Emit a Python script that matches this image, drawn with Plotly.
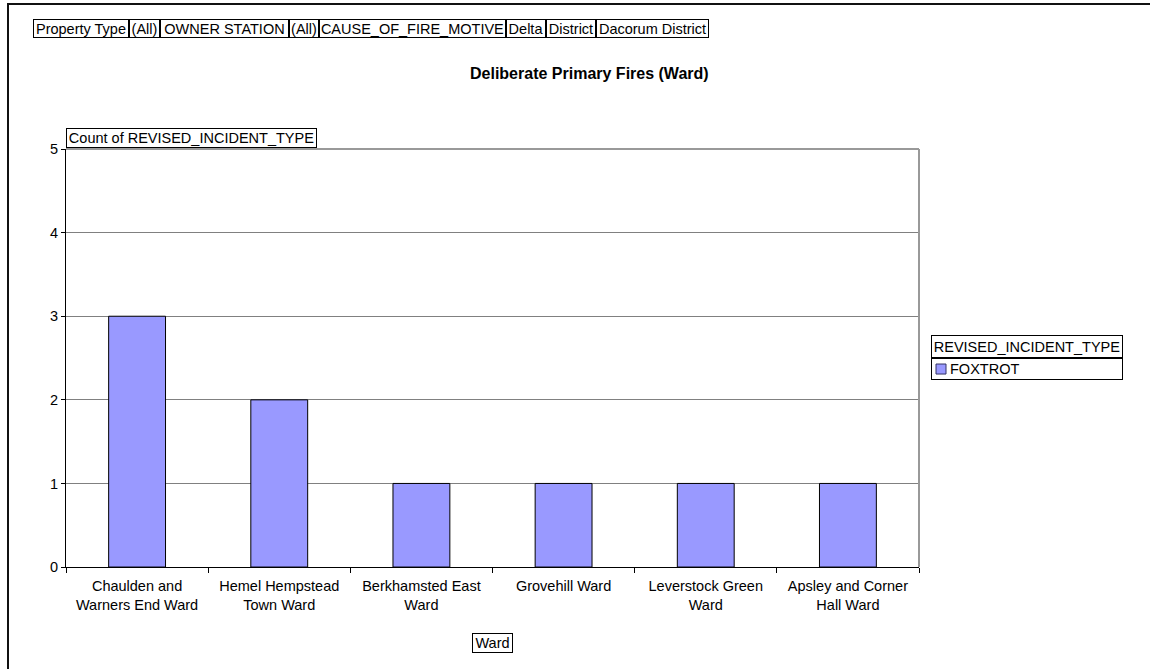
import plotly.graph_objects as go

# ---- data ----
wards = [
    "Chaulden and<br>Warners End Ward",
    "Hemel Hempstead<br>Town Ward",
    "Berkhamsted East<br>Ward",
    "Grovehill Ward",
    "Leverstock Green<br>Ward",
    "Apsley and Corner<br>Hall Ward",
]
counts = [3, 2, 1, 1, 1, 1]
series_name = "FOXTROT"
y_ticks = [0, 1, 2, 3, 4, 5]
filter_labels = ["Property Type", "(All)", "OWNER STATION", "(All)",
                 "CAUSE_OF_FIRE_MOTIVE", "Delta", "District", "Dacorum District"]
title_text = "Deliberate Primary Fires (Ward)"
y_title = "Count of REVISED_INCIDENT_TYPE"
x_title = "Ward"
legend_title = "REVISED_INCIDENT_TYPE"

W, H = 1150, 669
FONT = "Liberation Sans, Arial, sans-serif"
FS = 14.5
BAR = "#9999FF"

# vertical calibration of the rendered page (measured)
VS, VO = 0.976, 8.0


def px(x):
    return x / W


def ypx(y):
    return (y - VO) / VS


def py(y):
    return 1 - ypx(y) / H


fig = go.Figure()
fig.add_trace(go.Bar(x=wards, y=counts, name=series_name,
                     marker=dict(color=BAR, line=dict(color="black", width=1)),
                     showlegend=False))

L, R, T, B = 66, 919, 149, 567
fig.update_layout(
    width=W, height=H,
    margin=dict(l=0, r=0, t=0, b=0),
    paper_bgcolor="white", plot_bgcolor="white",
    font=dict(family=FONT, size=FS, color="black"),
    bargap=0.6,
    xaxis=dict(domain=[px(L), px(R)], showgrid=False, showline=True,
               linecolor="black", linewidth=1, ticks="outside",
               tickson="boundaries", ticklen=5, tickcolor="black",
               ticklabelstandoff=6,
               tickfont=dict(size=FS), zeroline=False),
    yaxis=dict(domain=[py(B), py(T)], range=[0, 5], tickvals=y_ticks,
               showgrid=True, gridcolor="#808080", gridwidth=1,
               showline=True, linecolor="black", linewidth=1,
               ticks="outside", ticklen=4, tickcolor="black",
               tickfont=dict(size=FS), zeroline=False),
)

shapes = []
# plot area top/right border (gray)
shapes.append(dict(type="line", xref="paper", yref="paper", x0=px(L), x1=px(R),
                   y0=py(T), y1=py(T), line=dict(color="#999999", width=2)))
shapes.append(dict(type="line", xref="paper", yref="paper", x0=px(R), x1=px(R),
                   y0=py(T), y1=py(B), line=dict(color="#999999", width=2)))
# outer chart border
shapes.append(dict(type="rect", xref="paper", yref="paper", x0=px(8), x1=px(1170),
                   y0=py(700), y1=py(4), line=dict(color="#111111", width=2)))

annotations = []


def box(text, x0, x1, y0, y1):
    annotations.append(dict(
        text=text,
        xref="paper", yref="paper", x=px(x0), y=py(y0),
        xanchor="left", yanchor="top", showarrow=False,
        width=x1 - x0 - 2, height=ypx(y1) - ypx(y0) - 2, align="center", valign="middle",
        bordercolor="black", borderwidth=1, borderpad=0,
        font=dict(family=FONT, size=FS, color="black")))


# filter row
edges = [33, 129, 160, 289, 319, 506, 546, 596, 709]
for i, lab in enumerate(filter_labels):
    box(lab, edges[i], edges[i + 1], 18.5, 37.5)

# title
annotations.append(dict(text=f"<b>{title_text}</b>", xref="paper", yref="paper",
                        x=px(589), y=py(73), xanchor="center", yanchor="middle",
                        showarrow=False, font=dict(family=FONT, size=16, color="black")))

# y title box
box(y_title, 66, 317, 128, 148)
# x title box
box(x_title, 472, 513, 633, 653)

# legend
box(legend_title, 931, 1123, 335, 358)
box("", 931, 1123, 357, 379)
shapes.append(dict(type="rect", xref="paper", yref="paper", x0=px(936), x1=px(946),
                   y0=py(374), y1=py(364), fillcolor=BAR,
                   line=dict(color="#333366", width=1)))
annotations.append(dict(text=series_name, xref="paper", yref="paper",
                        x=px(948), y=py(369), xanchor="left", yanchor="middle",
                        showarrow=False, font=dict(family=FONT, size=FS, color="black")))

fig.update_layout(shapes=shapes, annotations=annotations)
fig.write_html("out.html", config={"displayModeBar": False},
               post_script="document.body.style.margin='0';document.body.style.overflow='hidden';")
